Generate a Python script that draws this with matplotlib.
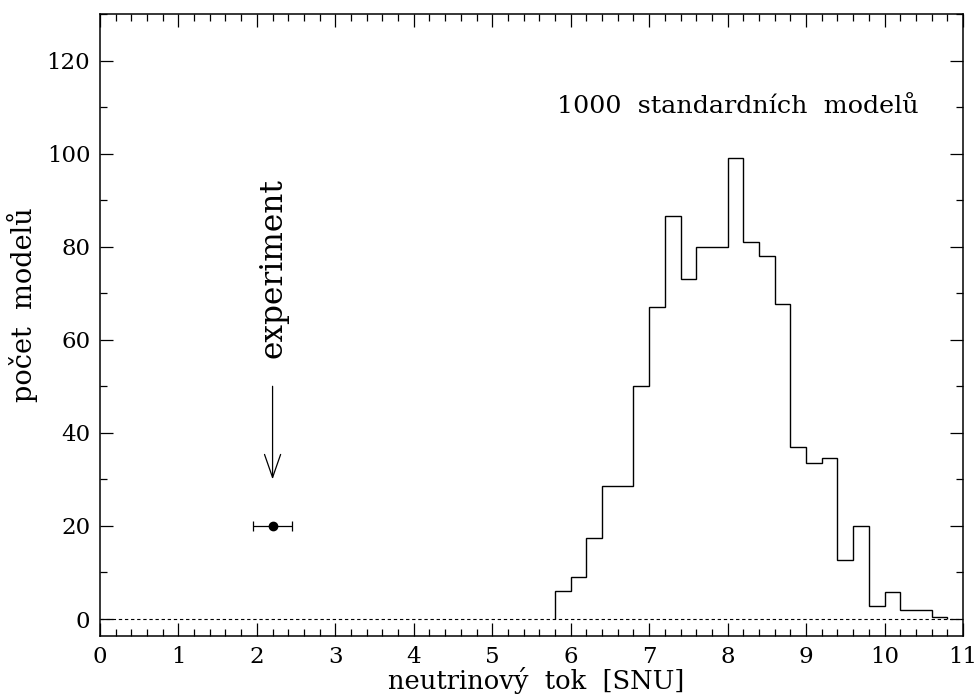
import matplotlib
matplotlib.use("Agg")
import matplotlib.pyplot as plt
import numpy as np

# histogram of 1000 standard solar models (bins of 0.2 SNU)
bin_edges = [5.8, 6.0, 6.2, 6.4, 6.6, 6.8, 7.0, 7.2, 7.4, 7.6, 7.8, 8.0,
             8.2, 8.4, 8.6, 8.8, 9.0, 9.2, 9.4, 9.6, 9.8, 10.0, 10.2, 10.4,
             10.6, 10.8]
counts = [6, 9, 17.5, 28.5, 28.5, 50, 67, 86.5, 73, 80, 80, 99,
          81, 78, 67.6, 37, 33.5, 34.5, 12.6, 20, 2.7, 5.7, 2, 2, 0.4]

# measured value
exp_x = 2.2
exp_y = 20
exp_xerr = 0.25
arrow_from = (2.2, 50)
arrow_to = (2.2, 30)

plt.rcParams['font.family'] = ['DejaVu Serif']
plt.rcParams['font.size'] = 16.5

fig = plt.figure(figsize=(9.78, 6.95), dpi=100)
ax = fig.add_axes([0.1022, 0.0849, 0.8825, 0.895])

ax.stairs(counts, bin_edges, baseline=0, color='black', lw=1.0)
ax.axhline(0, color='black', lw=0.8, ls=(0, (3, 2.5)))

ax.errorbar(exp_x, exp_y, xerr=exp_xerr, fmt='o', color='black', ms=6,
            capsize=3.3, elinewidth=0.9, capthick=0.9)
ax.annotate('', xy=arrow_to, xytext=arrow_from,
            arrowprops=dict(arrowstyle='->,head_length=0.83,head_width=0.29',
                            color='black', lw=0.9, shrinkA=0, shrinkB=0,
                            mutation_scale=20))
ax.text(2.2, 56, 'experiment', rotation=90, ha='center', va='bottom',
        fontsize=22.5)
ax.text(5.83, 108.8, '1000  standardních  modelů', ha='left',
        va='baseline', fontsize=18.3)

ax.set_xlim(0, 11)
ax.set_ylim(-3.65, 130)
ax.set_xticks(np.arange(0, 12, 1))
ax.set_xticks(np.arange(0, 11.01, 0.2), minor=True)
ax.set_yticks(np.arange(0, 121, 20))
ax.set_yticks(np.arange(0, 131, 10), minor=True)
ax.tick_params(which='both', direction='in', top=True, right=True, width=0.9)
ax.tick_params(which='major', length=9.5, pad=7)
ax.tick_params(which='minor', length=5)
for s in ax.spines.values():
    s.set_linewidth(1.1)

ax.set_xlabel('neutrinový  tok  [SNU]', fontsize=18.5)
ax.set_ylabel('počet  modelů', fontsize=19.5)
ax.xaxis.set_label_coords(0.505, -0.05)
ax.yaxis.set_label_coords(-0.072, 0.532)

fig.savefig('out.png', dpi=100)
